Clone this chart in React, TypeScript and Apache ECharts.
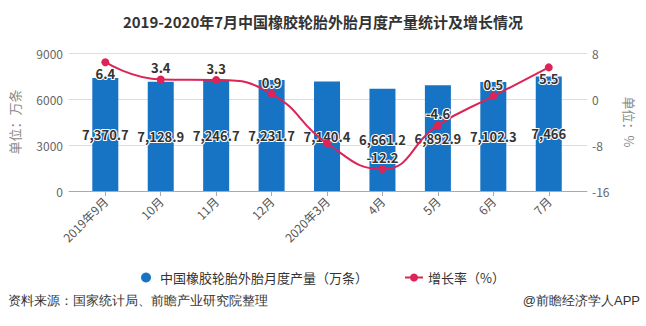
import React, { useEffect, useRef } from "react";
import * as echarts from "echarts";

const categories = ["2019年9月", "10月", "11月", "12月", "2020年3月", "4月", "5月", "6月", "7月"];
const output = [7370.7, 7128.9, 7246.7, 7231.7, 7140.4, 6661.2, 6892.9, 7102.3, 7466];
const growth = [6.4, 3.4, 3.3, 0.9, -7.7, -12.2, -4.6, 0.5, 5.5];
const growthLabelPos = ["bottom", "top", "top", "top", "hidden", "top", "top", "top", "bottom"];
const leftTicks = [0, 9000, 3000];
const rightTicks = [-16, 8, 8];

const FONT = "'Noto Sans CJK SC', 'Noto Sans', sans-serif";

export default function App() {
  const ref = useRef<HTMLDivElement>(null);
  useEffect(() => {
    if (!ref.current) return;
    const chart = echarts.init(ref.current, null, { renderer: "svg" });
    const fmt = new Intl.NumberFormat("en-US", { maximumFractionDigits: 1 });
    const idx = categories.map((_, i) => i);
    chart.setOption({
      animation: false,
      textStyle: { fontFamily: FONT },
      title: {
        text: "2019-2020年7月中国橡胶轮胎外胎月度产量统计及增长情况",
        left: "center",
        top: 9,
        textStyle: { fontSize: 15, fontWeight: "bold", color: "#333", fontFamily: FONT },
      },
      legend: {
        top: 266,
        left: "center",
        itemGap: 36,
        itemWidth: 18,
        itemHeight: 10,
        textStyle: { fontSize: 13, color: "#333", fontFamily: FONT },
        data: [
          { name: "中国橡胶轮胎外胎月度产量（万条）", icon: "circle" },
          { name: "增长率（%）" },
        ],
      },
      grid: { left: 68, right: 59, top: 53, bottom: 135 },
      xAxis: {
        type: "value",
        min: -0.655,
        max: 8.69,
        splitLine: { show: false },
        axisLine: { show: true, lineStyle: { color: "#aaa" } },
        axisTick: { show: true, length: 5, customValues: idx, lineStyle: { color: "#aaa" } },
        axisLabel: {
          customValues: idx,
          rotate: 45,
          fontSize: 12,
          color: "#555",
          margin: 8,
          formatter: (v: number) => categories[Math.round(v)] ?? "",
        },
      },
      yAxis: [
        {
          type: "value",
          min: leftTicks[0],
          max: leftTicks[1],
          interval: leftTicks[2],
          name: "单位：万条",
          nameLocation: "middle",
          nameGap: 48,
          nameRotate: 90,
          nameTextStyle: { color: "#888", fontSize: 13 },
          axisLine: { show: false },
          axisTick: { show: false },
          axisLabel: { color: "#666", fontSize: 12, margin: 6, formatter: (v: number) => String(v) },
          splitLine: { lineStyle: { color: "#ddd" } },
        },
        {
          type: "value",
          min: rightTicks[0],
          max: rightTicks[1],
          interval: rightTicks[2],
          name: "单位：%",
          nameLocation: "middle",
          nameGap: 36,
          nameRotate: -90,
          nameTextStyle: { color: "#888", fontSize: 13 },
          axisLine: { show: false },
          axisTick: { show: false },
          axisLabel: { color: "#666", fontSize: 12, margin: 5, formatter: (v: number) => String(v) },
          splitLine: { show: false },
        },
      ],
      series: [
        {
          name: "中国橡胶轮胎外胎月度产量（万条）",
          type: "bar",
          barWidth: 26,
          itemStyle: { color: "#1773c4" },
          data: output.map((v, i) => [i, v]),
          label: {
            show: true,
            position: "inside",
            fontSize: 13,
            fontWeight: "bold",
            color: "#333",
            textBorderColor: "#fff",
            textBorderWidth: 2,
            formatter: (p: any) => fmt.format(p.value[1]),
          },
          z: 2,
        },
        {
          name: "增长率（%）",
          type: "line",
          yAxisIndex: 1,
          smooth: true,
          symbol: "circle",
          symbolSize: 8,
          lineStyle: { color: "#dc2458", width: 2 },
          itemStyle: { color: "#dc2458" },
          data: growth.map((v, i) => ({
            value: [i, v],
            label:
              growthLabelPos[i] === "hidden"
                ? { show: false }
                : { show: true, position: growthLabelPos[i] },
          })),
          label: {
            show: true,
            distance: 1,
            fontSize: 13,
            fontWeight: "bold",
            color: "#333",
            textBorderColor: "#fff",
            textBorderWidth: 2,
            formatter: (p: any) => String(p.value[1]),
          },
          z: 3,
        },
      ],
      graphic: [
        {
          type: "text",
          left: 8,
          top: 294,
          style: { text: "资料来源：国家统计局、前瞻产业研究院整理", fontSize: 13, fill: "#333", font: `13px ${FONT}` },
        },
        {
          type: "text",
          right: 6,
          top: 294,
          style: { text: "@前瞻经济学人APP", fontSize: 13, fill: "#333", font: `13px ${FONT}` },
        },
      ],
    });
    return () => chart.dispose();
  }, []);
  return <div ref={ref} style={{ width: 646, height: 326, position: "absolute", left: 0, top: 0 }} />;
}
